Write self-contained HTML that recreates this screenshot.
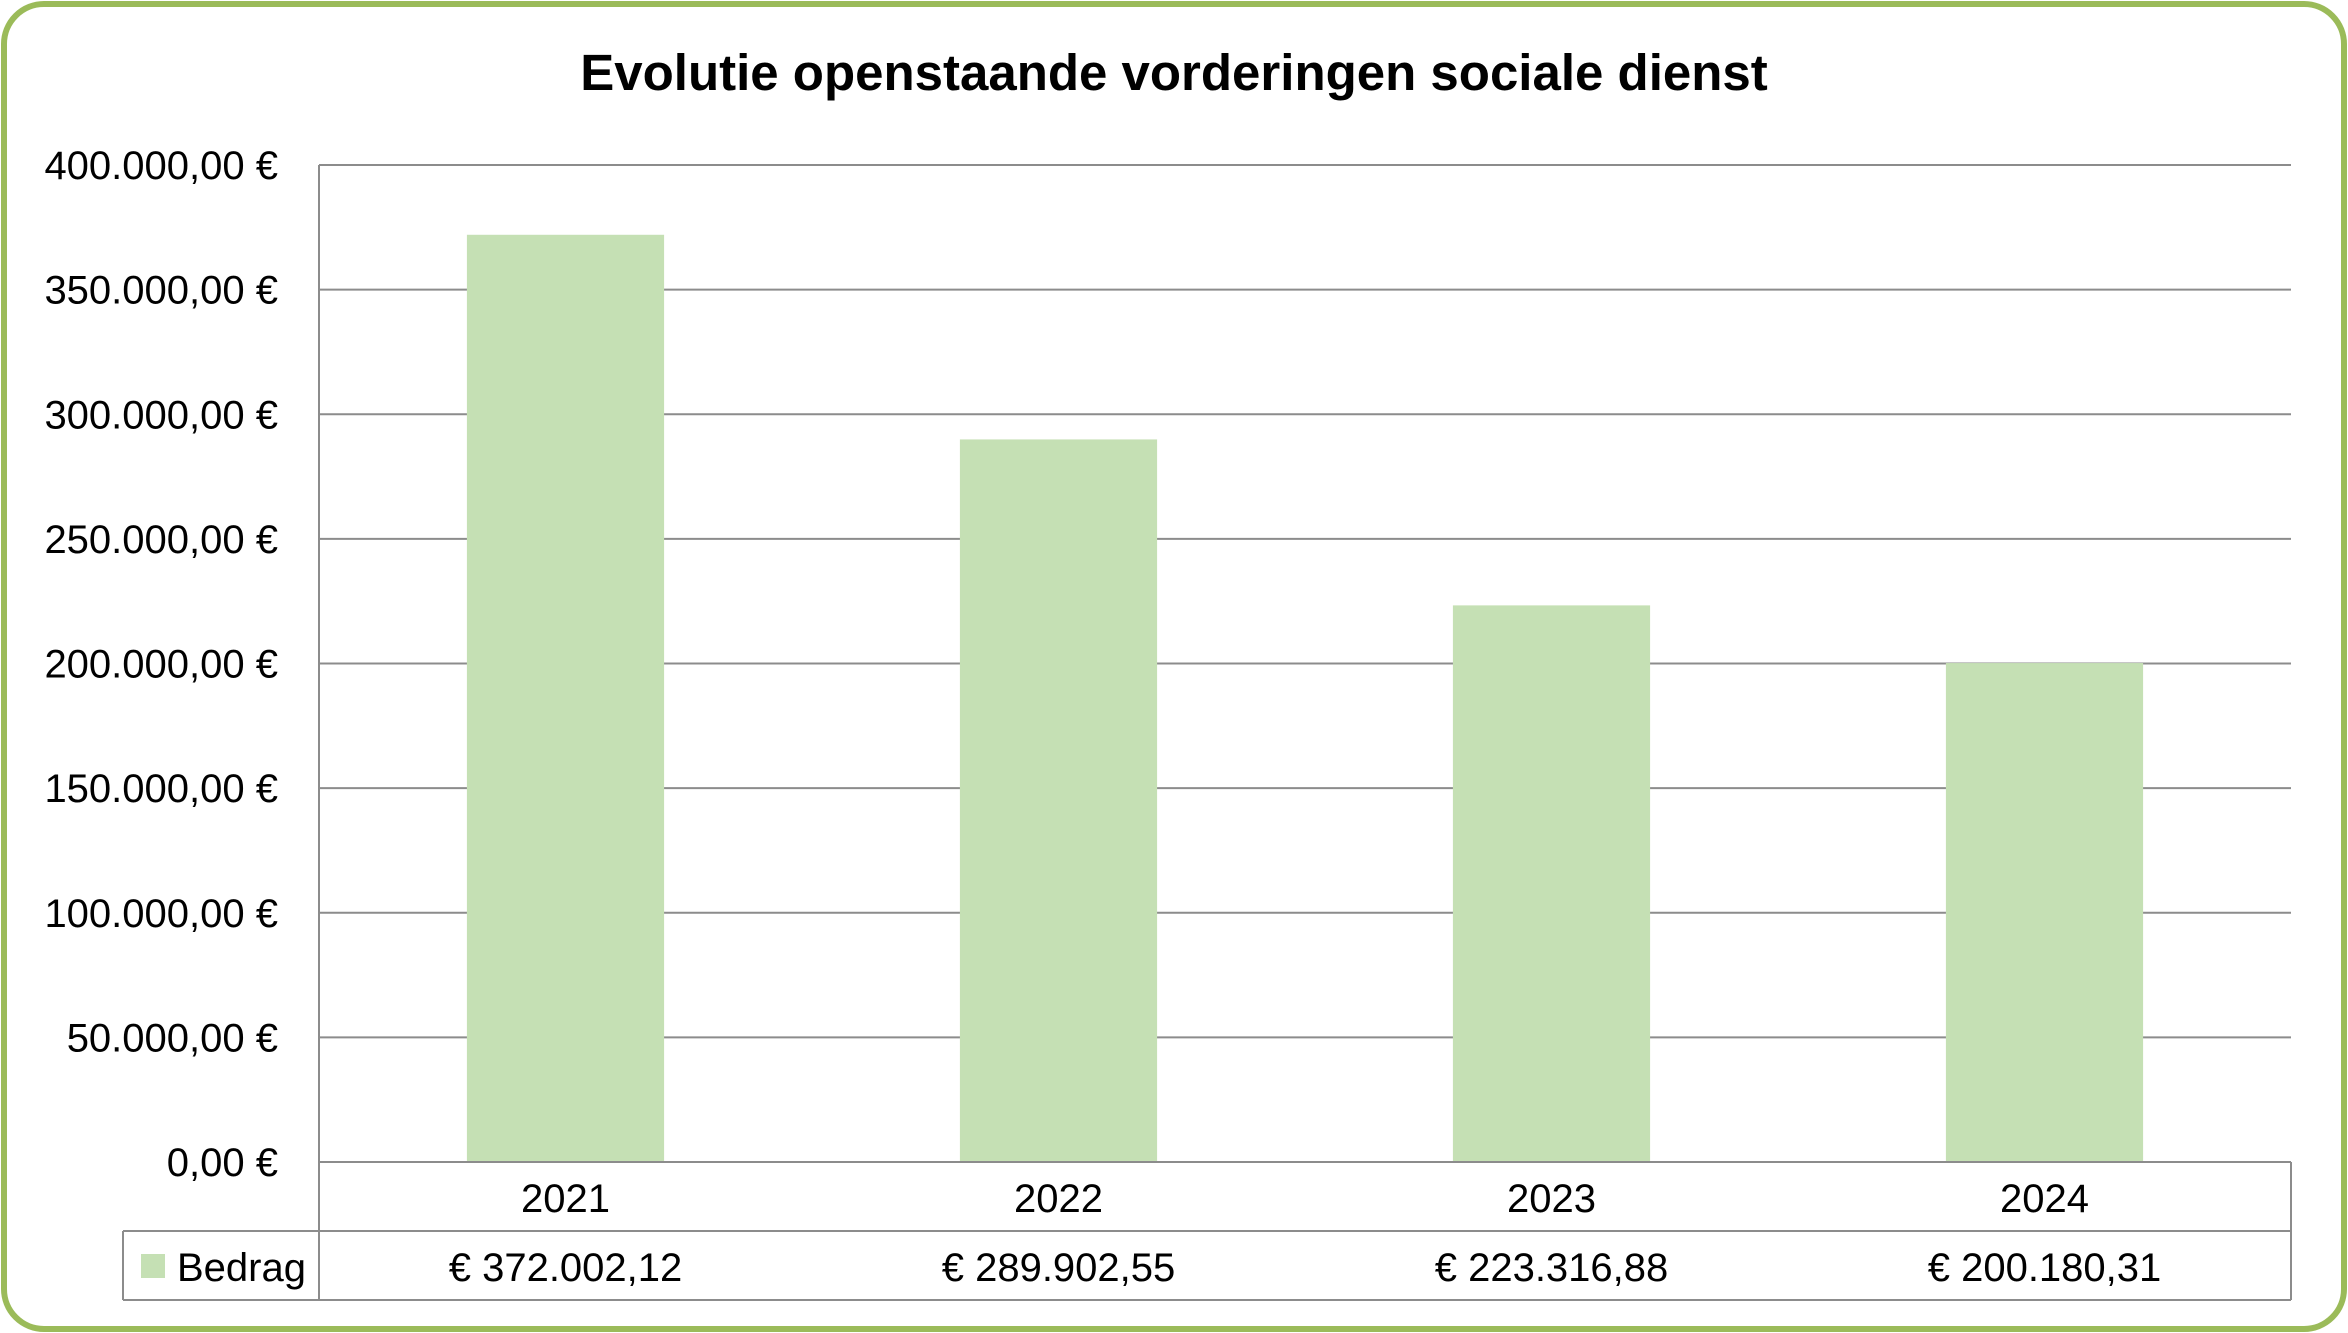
<!DOCTYPE html>
<html><head><meta charset="utf-8"><style>
html,body{margin:0;padding:0;background:#fff;}
svg{display:block;font-family:"Liberation Sans",sans-serif;}
</style></head><body>
<svg id="chart" width="2348" height="1333" viewBox="0 0 2348 1333" xmlns="http://www.w3.org/2000/svg">
<rect x="4" y="4" width="2340" height="1325" rx="40" fill="#fff" stroke="#9bbb59" stroke-width="6"/>
<text x="1174" y="90" text-anchor="middle" font-size="51" font-weight="bold" fill="#000">Evolutie openstaande vorderingen sociale dienst</text>
<g id="grid"></g>
<g id="yt"></g>
<g id="bars"></g>
<g id="table"></g>
</svg>
<script>
const categories=["2021","2022","2023","2024"];
const values=[372002.12,289902.55,223316.88,200180.31];
const valueLabels=["€ 372.002,12","€ 289.902,55","€ 223.316,88","€ 200.180,31"];
const yTicks=[0,50000,100000,150000,200000,250000,300000,350000,400000];
const yTickLabels=["0,00 €","50.000,00 €","100.000,00 €","150.000,00 €","200.000,00 €","250.000,00 €","300.000,00 €","350.000,00 €","400.000,00 €"];
const seriesName="Bedrag";
const NS="http://www.w3.org/2000/svg";
const L=319,R=2291,T=165,B=1162,row1=1231,row2=1300,legL=123;
const yMax=400000;
const y=v=>B-(v/yMax)*(B-T);
const cw=(R-L)/categories.length;
const x=i=>L+cw*i;
function mk(tag,attrs,parent){const e=document.createElementNS(NS,tag);for(const k in attrs)e.setAttribute(k,attrs[k]);parent.appendChild(e);return e;}
const grid=document.getElementById('grid'),yt=document.getElementById('yt'),bars=document.getElementById('bars'),tb=document.getElementById('table');
yTicks.forEach((t,i)=>{
  const l=mk('line',{x1:L,x2:R,y1:y(t),y2:y(t),stroke:'#8c8c8c','stroke-width':2},grid);
  
  
  const tx=mk('text',{x:L-41,y:y(t)+14,'text-anchor':'end','font-size':40,fill:'#000'},yt);
  tx.textContent=yTickLabels[i];
  
  
});
mk('line',{x1:L,x2:L,y1:T,y2:row2,stroke:'#8c8c8c','stroke-width':2},grid);
values.forEach((v,i)=>{
  const bw=cw*0.4;
  const r=mk('rect',{x:x(i)+(cw-bw)/2,y:y(v),width:bw,height:B-y(v),fill:'#c5e0b4'},bars);
  
  
});
[[legL,R,row1,row1],[legL,R,row2,row2],[R,R,B,row2],[legL,legL,row1,row2]].forEach(a=>{
  mk('line',{x1:a[0],x2:a[1],y1:a[2],y2:a[3],stroke:'#8c8c8c','stroke-width':2},tb);
});
mk('line',{x1:L,x2:R,y1:B,y2:B,stroke:'#8c8c8c','stroke-width':2},tb);
categories.forEach((c,i)=>{
  const t=mk('text',{x:x(i)+cw/2,y:B+50,'text-anchor':'middle','font-size':40,fill:'#000'},tb);
  t.textContent=c;
  
  
  const v=mk('text',{x:x(i)+cw/2,y:row1+50,'text-anchor':'middle','font-size':40,fill:'#000'},tb);
  v.textContent=valueLabels[i];
  
  
});
const sw=mk('rect',{x:141,y:1254,width:24,height:24,fill:'#c5e0b4'},tb);


const lt=mk('text',{x:177,y:row1+50,'font-size':40,fill:'#000'},tb);
lt.textContent=seriesName;


</script>
</body></html>
